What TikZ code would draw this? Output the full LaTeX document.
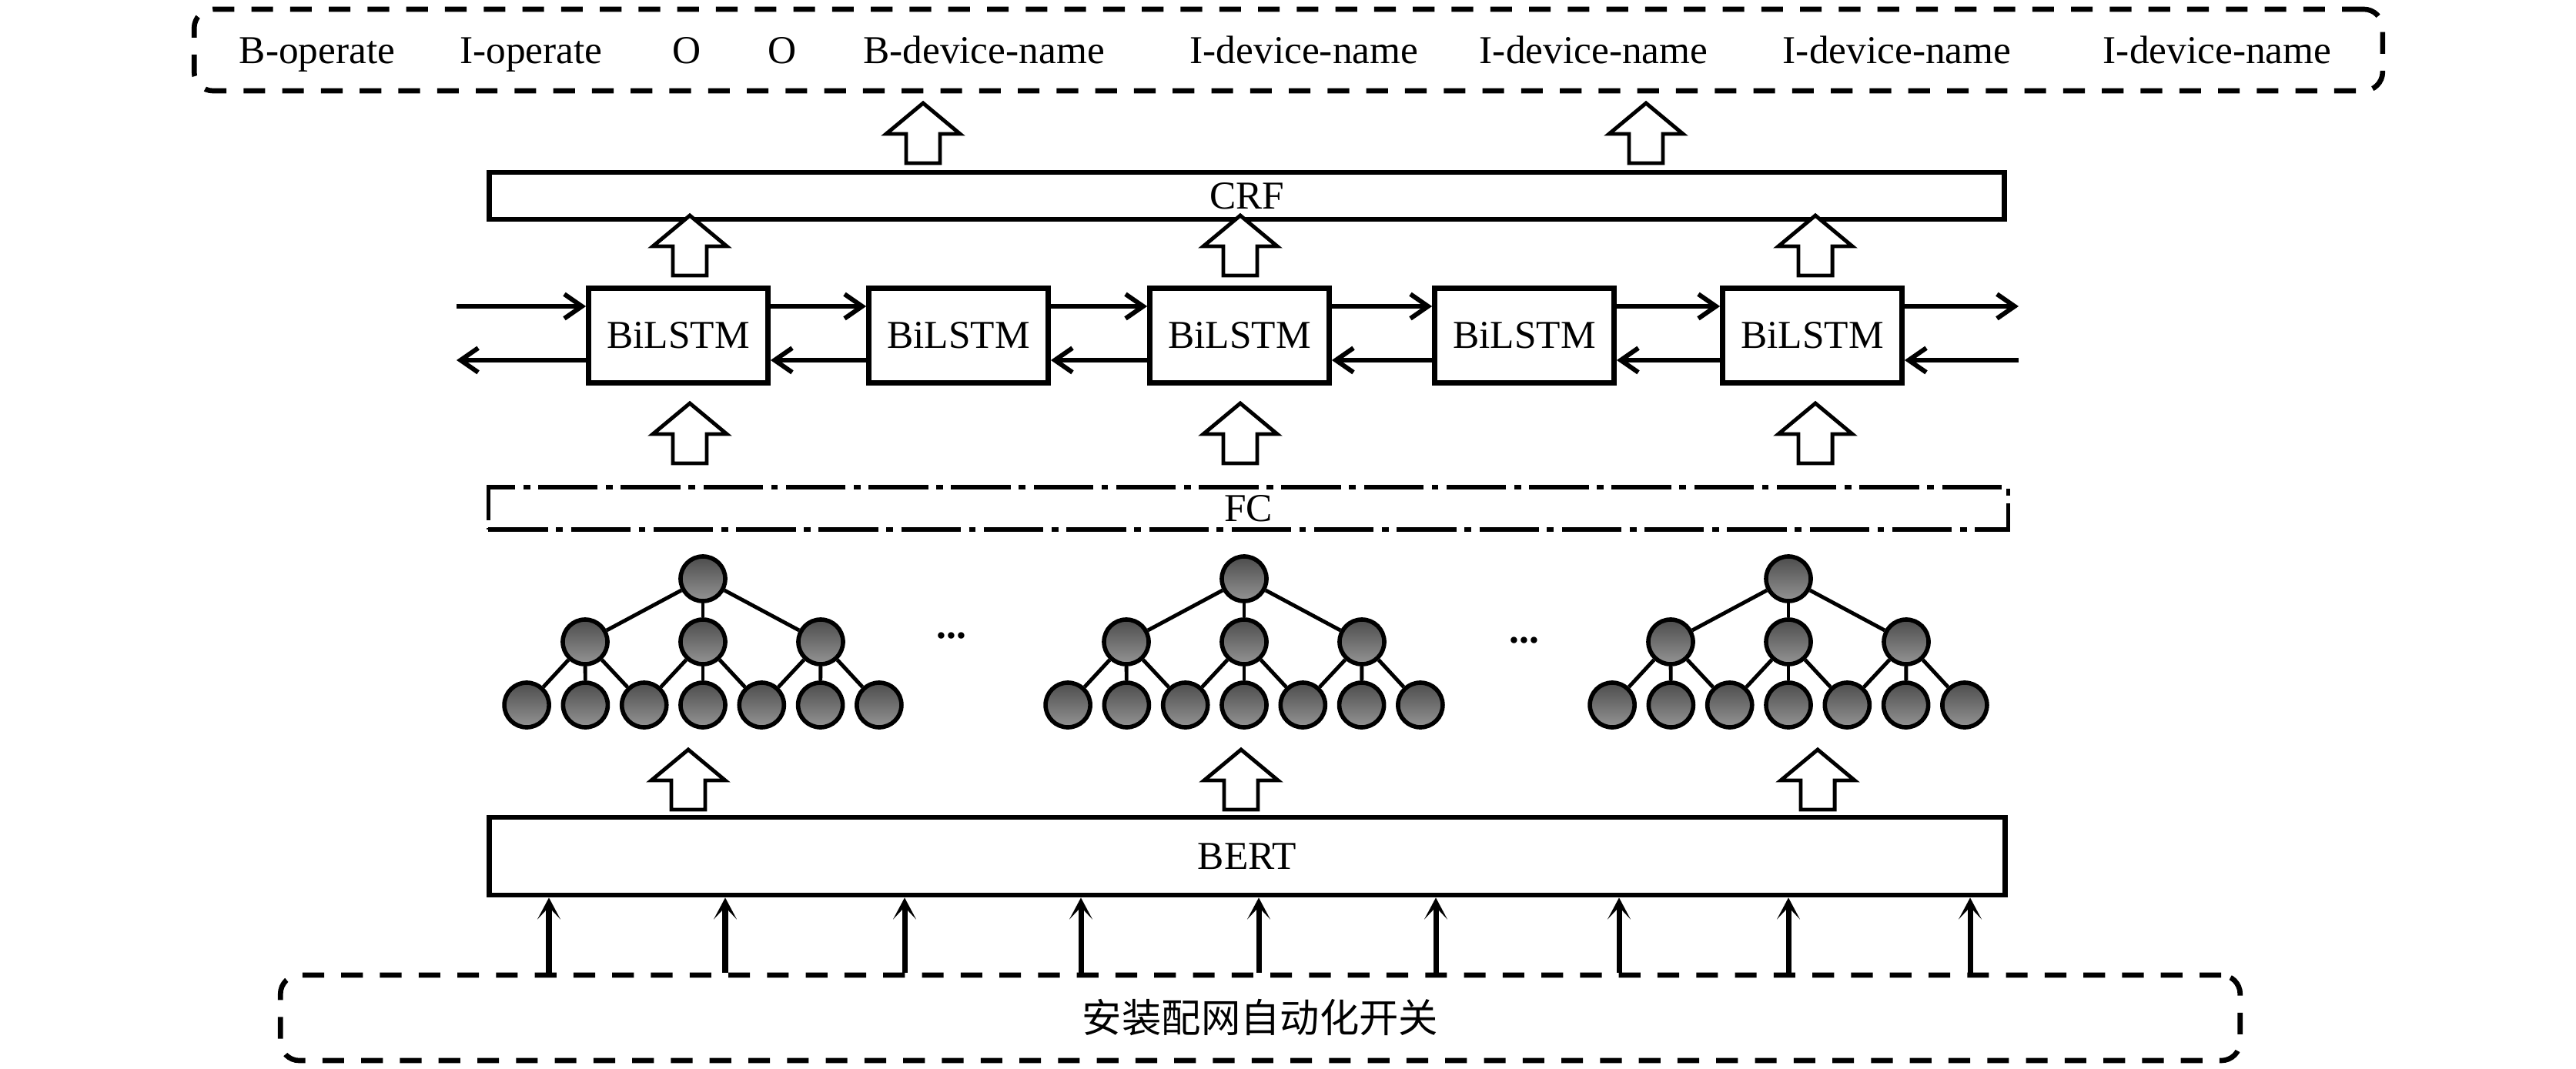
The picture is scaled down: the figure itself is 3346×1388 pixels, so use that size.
\documentclass[tikz,border=0pt]{standalone}
\usepackage{fontspec}
\setmainfont{Liberation Serif}
\newfontfamily\cjk{Noto Sans CJK SC}
\usetikzlibrary{arrows.meta}
\tikzset{
  txt/.style={font=\fontsize{14.6}{17}\selectfont, inner sep=0pt},
  layer/.style={draw, line width=1.9pt, rectangle, inner sep=0pt, font=\fontsize{14.6}{17}\selectfont},
  lstm/.style={layer, minimum width=2.33cm, minimum height=1.23cm},
  dashbox/.style={draw, line width=1.9pt, rounded corners=7pt, dash pattern=on 8pt off 6.3pt, inner sep=0pt},
  fcline/.style={draw, line width=1.5pt, dash pattern=on 22pt off 3pt on 2.5pt off 3pt, inner sep=0pt, font=\fontsize{14.6}{17}\selectfont},
  tn/.style={circle, draw, line width=1.6pt, minimum size=0.58cm, inner sep=0pt, top color=black!70, bottom color=black!42},
  tedge/.style={line width=1.4pt},
  rnn/.style={line width=1.7pt, -{Straight Barb[length=6.5pt,width=9pt,line width=1.7pt]}},
  thin/.style={line width=2pt, -{Stealth[length=8pt,width=8.5pt,inset=4.5pt]}},
  hup/.pic={\draw[line width=1.4pt, fill=white, line join=miter] (-22,0) -- (-22,-38) -- (-48,-38) -- (0,-78) -- (48,-38) -- (22,-38) -- (22,0) -- cycle;}
}
\begin{document}
\begin{tikzpicture}[x=0.01cm,y=-0.01cm]
\useasboundingbox (0,0) rectangle (3346,1388);
% top output box
\node[dashbox, minimum width=28.41cm, minimum height=1.06cm] (out) at (1673.5,65) {};
\node[txt, anchor=base] (o1) at (412,83) {B-operate};
\node[txt, anchor=base] (o2) at (690,83) {I-operate};
\node[txt, anchor=base] (o3) at (892,83) {O};
\node[txt, anchor=base] (o4) at (1016,83) {O};
\node[txt, anchor=base] (o5) at (1278,83) {B-device-name};
\node[txt, anchor=base] (o6) at (1694,83) {I-device-name};
\node[txt, anchor=base] (o7) at (2070,83) {I-device-name};
\node[txt, anchor=base] (o8) at (2464,83) {I-device-name};
\node[txt, anchor=base] (o9) at (2880,83) {I-device-name};
% CRF
\node[layer, minimum width=19.67cm, minimum height=0.61cm] (crf) at (1619.5,254.5) {CRF};
\pic at (1199,212) {hup};
\pic at (2138,212) {hup};
% BiLSTM
\node[lstm] (b1) at (881,436) {BiLSTM};
\node[lstm] (b2) at (1245,436) {BiLSTM};
\node[lstm] (b3) at (1610,436) {BiLSTM};
\node[lstm] (b4) at (1980,436) {BiLSTM};
\node[lstm] (b5) at (2354,436) {BiLSTM};
\pic at (896,358) {hup};
\pic at (1611,358) {hup};
\pic at (2358,358) {hup};
\coordinate (lin) at (593,398);
\coordinate (lout) at (593,468);
\coordinate (rout) at (2622,398);
\coordinate (rin) at (2622,468);
\draw[rnn] (lin) -- (lin -| b1.west);
\draw[rnn] (lout -| b1.west) -- (lout);
\foreach \a/\b in {b1/b2,b2/b3,b3/b4,b4/b5}{
  \draw[rnn] (lin -| \a.east) -- (lin -| \b.west);
  \draw[rnn] (lout -| \b.west) -- (lout -| \a.east);
}
\draw[rnn] (rout -| b5.east) -- (rout);
\draw[rnn] (rin) -- (rin -| b5.east);
% FC
\pic at (896,602) {hup};
\pic at (1611,602) {hup};
\pic at (2358,602) {hup};
\node[fcline, minimum width=19.73cm, minimum height=0.55cm] (fc) at (1621.5,660.5) {FC};
% trees
\foreach \t/\R in {1/913,2/1616,3/2323}{
  \node[tn] (r\t) at (\R,752) {};
  \foreach \j in {-1,0,1}{
    \node[tn] (m\t\j) at ({\R+153*\j},834) {};
  }
  \foreach \k in {-3,...,3}{
    \node[tn] (l\t\k) at ({\R+76.3*\k},916) {};
  }
  \foreach \j in {-1,0,1}{
    \draw[tedge] (r\t) -- (m\t\j);
    \foreach \d in {-1,0,1}{
      \pgfmathtruncatemacro{\kk}{2*\j+\d}
      \draw[tedge] (m\t\j) -- (l\t\kk);
    }
  }
}
\node[txt, font=\fontsize{14.6}{17}\selectfont\bfseries] (dots1) at (1236,826) {...};
\node[txt, font=\fontsize{14.6}{17}\selectfont\bfseries] (dots2) at (1980,832) {...};
% BERT
\pic at (894,1052) {hup};
\pic at (1612,1052) {hup};
\pic at (2361,1052) {hup};
\node[layer, minimum width=19.68cm, minimum height=1.01cm] (bert) at (1620,1112.5) {BERT};
% input
\node[dashbox, minimum width=25.44cm, minimum height=1.11cm, font=\cjk\fontsize{14.6}{17}\selectfont] (inp) at (1637,1322.5) {安装配网自动化开关};
\foreach \i/\x in {1/713,2/942,3/1175,4/1404,5/1635,6/1865,7/2103,8/2323,9/2559}{
  \coordinate (x\i) at (\x,0);
  \draw[thin] (inp.north -| x\i) -- (bert.south -| x\i);
}
\end{tikzpicture}
\end{document}
